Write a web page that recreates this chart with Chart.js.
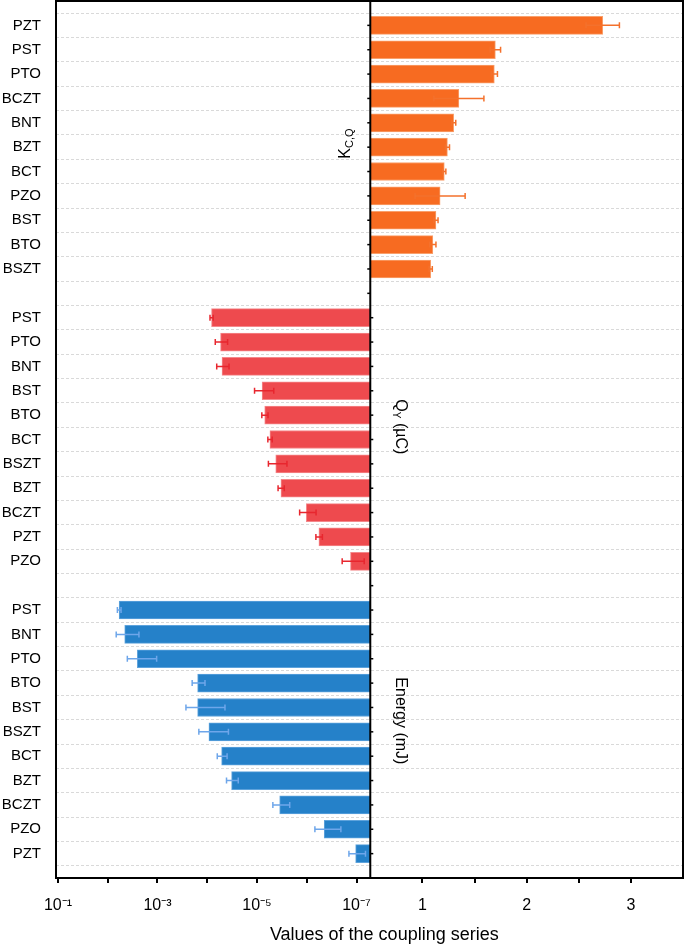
<!DOCTYPE html>
<html><head><meta charset="utf-8">
<script src="https://cdn.jsdelivr.net/npm/chart.js@4.4.0/dist/chart.umd.min.js"></script>
<style>html,body{margin:0;padding:0;background:#fff}#wrap{width:685px;height:944px;position:relative}</style>
</head><body><div id="wrap"><canvas id="c"></canvas></div>
<script>
// ---- data ----
const kcqNames = ['PZT','PST','PTO','BCZT','BNT','BZT','BCT','PZO','BST','BTO','BSZT'];
const kcqValues = [2.73,1.70,1.69,1.35,1.30,1.24,1.21,1.17,1.13,1.10,1.08];
const kcqErrors = [0.16,0.05,0.03,0.24,0.02,0.02,0.015,0.24,0.02,0.03,0.015];

const qyNames = ['PST','PTO','BNT','BST','BTO','BCT','BSZT','BZT','BCZT','PZT','PZO'];
const qyValues = [8.2e-5,5.4e-5,5.05e-5,7.9e-6,7.0e-6,5.5e-6,4.2e-6,3.3e-6,1.02e-6,5.7e-7,1.32e-7];
const qyErrors = [6e-6,1.5e-5,1.4e-5,3.3e-6,1.0e-6,5.5e-7,1.7e-6,4.7e-7,3.7e-7,8.5e-8,6.2e-8];

const energyNames = ['PST','BNT','PTO','BTO','BST','BSZT','BCT','BZT','BCZT','PZO','PZT'];
const energyValues = [5.9e-3,4.56e-3,2.54e-3,1.56e-4,1.56e-4,9.25e-5,5.14e-5,3.24e-5,3.5e-6,4.46e-7,1.04e-7];
const energyErrors = [5e-4,2.2e-3,1.5e-3,4.5e-5,1.12e-4,5.5e-5,1.15e-5,8.6e-6,1.3e-6,2.4e-7,3.8e-8];

const logTickExponents = [-1,-2,-3,-4,-5,-6,-7];
const logLabelExponents = [-1,-3,-5,-7];
const linearTicks = [1,1.5,2,2.5,3];
const linearLabels = [1,2,3];

const xTitle = 'Values of the coupling series';

// ---- axis ranges ----
const LOG_MIN = Math.pow(10,-7.277);
const LOG_MAX = Math.pow(10,-0.96);
const LIN_MIN = 0.5, LIN_MAX = 3.5;

// ---- rows ----
const rowLabels = [''].concat(kcqNames, [''], qyNames, [''], energyNames, ['']);
const N = rowLabels.length;
function place(values, start){ const a = new Array(N).fill(null); values.forEach((v,i)=>a[start+i]=v); return a; }
const kStart = 1, qStart = 1 + kcqNames.length + 1, eStart = qStart + qyNames.length + 1;

const FONT = '"Liberation Sans", Arial, Helvetica, sans-serif';
Chart.defaults.font.family = FONT;
Chart.defaults.color = '#000';

const sup = {'-':'\u207B','0':'\u2070','1':'\u00B9','2':'\u00B2','3':'\u00B3','4':'\u2074','5':'\u2075','6':'\u2076','7':'\u2077','8':'\u2078','9':'\u2079'};
function supStr(n){ return String(n).split('').map(c=>sup[c]).join(''); }

const errorBarPlugin = {
  id: 'errorBars',
  afterDatasetsDraw(chart){
    const ctx = chart.ctx;
    chart.data.datasets.forEach((ds, di) => {
      const meta = chart.getDatasetMeta(di);
      const xs = chart.scales[ds.xAxisID];
      ctx.save();
      ctx.strokeStyle = ds.errorColor; ctx.lineWidth = 1.5;
      ds.data.forEach((v,i) => {
        if (v == null) return;
        const e = ds.errors[i];
        const el = meta.data[i];
        const y = el.y;
        const x1 = xs.getPixelForValue(v - e), x2 = xs.getPixelForValue(v + e);
        ctx.beginPath();
        ctx.moveTo(x1,y); ctx.lineTo(x2,y);
        ctx.moveTo(x1,y-3); ctx.lineTo(x1,y+3);
        ctx.moveTo(x2,y-3); ctx.lineTo(x2,y+3);
        ctx.stroke();
      });
      ctx.restore();
    });
  }
};

function drawRich(ctx, parts, cx, cy, angle){
  ctx.save();
  ctx.translate(cx, cy); ctx.rotate(angle);
  let w = 0;
  parts.forEach(p => { ctx.font = p.size + 'px ' + FONT; p.w = ctx.measureText(p.t).width; w += p.w; });
  let x = -w/2;
  ctx.fillStyle = '#000'; ctx.textBaseline = 'alphabetic'; ctx.textAlign = 'left';
  parts.forEach(p => { ctx.font = p.size + 'px ' + FONT; ctx.fillText(p.t, x, 5.7 + (p.dy||0)); x += p.w; });
  ctx.restore();
}

const framePlugin = {
  id: 'frame',
  afterDraw(chart){
    const ctx = chart.ctx, a = chart.chartArea;
    const xl = chart.scales.xlog, ys = chart.scales.y;
    const div = xl.right;
    ctx.save();
    ctx.strokeStyle = '#000'; ctx.lineWidth = 2;
    ctx.strokeRect(a.left, a.top, a.right - a.left, a.bottom - a.top);
    ctx.beginPath(); ctx.moveTo(div, a.top); ctx.lineTo(div, a.bottom); ctx.stroke();
    // small ticks along divider
    ctx.lineWidth = 1.5;
    for (let i = 1; i < N - 1; i++){
      const y = ys.getPixelForTick(i);
      ctx.beginPath();
      if (i <= kStart + kcqNames.length) { ctx.moveTo(div - 3, y); ctx.lineTo(div, y); }
      else { ctx.moveTo(div, y); ctx.lineTo(div + 3, y); }
      ctx.stroke();
    }
    // group labels
    drawRich(ctx, [{t:'K',size:16},{t:'C,Q',size:11,dy:3}], div - 26, ys.getPixelForValue(5.85), -Math.PI/2);
    drawRich(ctx, [{t:'Q',size:16},{t:'Y',size:10,dy:3},{t:' (\u00B5C)',size:16}], div + 31, ys.getPixelForValue(17.48), Math.PI/2);
    drawRich(ctx, [{t:'Energy (mJ)',size:16}], div + 31, ys.getPixelForValue(29.55), Math.PI/2);
    // x title
    ctx.font = '18px ' + FONT; ctx.fillStyle = '#000'; ctx.textAlign = 'center'; ctx.textBaseline = 'alphabetic';
    ctx.fillText(xTitle, div + 14, a.bottom + 62);
    ctx.restore();
  }
};

function noPad(s){ s.paddingTop = 0; s.paddingBottom = 0; s.paddingLeft = 0; s.paddingRight = 0; }

const commonX = {
  position: 'bottom', stack: 'x',
  grid: {drawOnChartArea:false, drawTicks:true, tickLength:5, color:'#000', lineWidth:2},
  border: {display:true, color:'#000', width:2},
  afterFit: s => { s.height = 66; noPad(s); }
};

new Chart(document.getElementById('c'), {
  type: 'bar',
  data: {
    labels: rowLabels,
    datasets: [
      {label:'Kcq', data: place(kcqValues,kStart), errors: place(kcqErrors,kStart), xAxisID:'xlin', base: LIN_MIN,
       backgroundColor:'#F76B21', borderColor:'#F9A06C', borderWidth:1, errorColor:'#F4712C', grouped:false, barThickness:18},
      {label:'Qy', data: place(qyValues,qStart), errors: place(qyErrors,qStart), xAxisID:'xlog', base: LOG_MIN,
       backgroundColor:'#EE4A4E', borderColor:'#F4888B', borderWidth:1, errorColor:'#E8262E', grouped:false, barThickness:18},
      {label:'Energy', data: place(energyValues,eStart), errors: place(energyErrors,eStart), xAxisID:'xlog', base: LOG_MIN,
       backgroundColor:'#2581C9', borderColor:'#5EA3DC', borderWidth:1, errorColor:'#6EA6EA', grouped:false, barThickness:18}
    ]
  },
  options: {
    responsive:true, maintainAspectRatio:false, animation:false,
    indexAxis:'y',
    layout: {padding:{top:1, right:2, bottom:0, left:0}},
    plugins: {legend:{display:false}, tooltip:{enabled:false}},
    scales: {
      y: {
        type:'category', offset:false, position:'left',
        grid: {color:'#d9d9d9', lineWidth:1, drawTicks:false},
        border: {display:false, dash:[3,2]},
        ticks: {autoSkip:false, padding:15, font:{size:15}, color:'#000'},
        afterFit: s => { s.width = 56; noPad(s); }
      },
      xlog: Object.assign({}, commonX, {
        type:'logarithmic', reverse:true, min:LOG_MIN, max:LOG_MAX, stackWeight:1.005,
        ticks: {autoSkip:false, maxRotation:0, padding:13, font:{size:16}, color:'#000',
          callback: v => { const e = Math.round(Math.log10(v)); return logLabelExponents.includes(e) ? '10' + supStr(e) : ''; }},
        afterBuildTicks: s => { s.ticks = logTickExponents.map(e => ({value: Math.pow(10,e)})); }
      }),
      xlin: Object.assign({}, commonX, {
        type:'linear', min:LIN_MIN, max:LIN_MAX, stackWeight:1,
        ticks: {autoSkip:false, maxRotation:0, padding:13, font:{size:16}, color:'#000',
          callback: v => linearLabels.includes(v) ? String(v) : ''},
        afterBuildTicks: s => { s.ticks = linearTicks.map(v => ({value:v})); }
      })
    }
  },
  plugins: [errorBarPlugin, framePlugin]
});
</script></body></html>
